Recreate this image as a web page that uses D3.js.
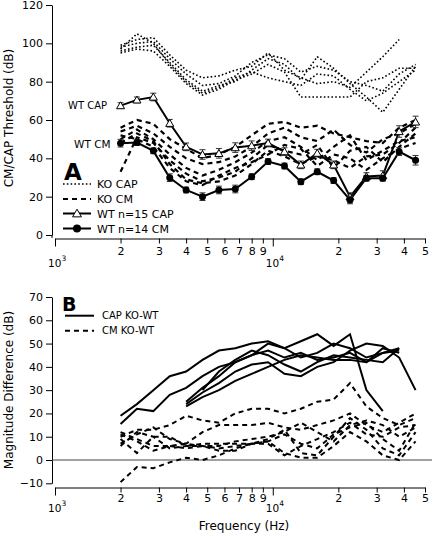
<!DOCTYPE html>
<html><head><meta charset="utf-8">
<script src="https://cdn.jsdelivr.net/npm/d3@7"></script>
<style>
body{margin:0;background:#fff}
svg{display:block;font-family:"DejaVu Sans",Verdana,sans-serif}
</style>
</head><body>
<svg id="c" width="433" height="536"></svg>
<script>
// ---------- DATA ----------
const freqs = [2000, 2378, 2828, 3364, 4000, 4757, 5657, 6727, 8000, 9514, 11314, 13454, 16000, 19027, 22627, 26909, 32000, 38055, 45255];

const wtCap    = [67.5, 70.5, 72, 58.3, 46, 42, 42.6, 45.6, 46.6, 48, 43.5, 36.6, 42.7, 36.6, 20, 30.5, 31, 54, 59];
const wtCapErr = [1.5, 1.5, 2, 2, 2, 2.5, 2.5, 2.5, 2.5, 2, 2, 2, 2, 2, 2, 2, 2.5, 3, 3];
const wtCm     = [47.9, 48.2, 43.9, 29.9, 23.5, 20, 23.5, 24, 30.4, 38.3, 36, 27.8, 33, 28.4, 18.3, 29.6, 29.6, 43.5, 39];
const wtCmErr  = [2, 1.5, 1.5, 2, 1.5, 2, 2, 2, 1.5, 1.5, 1.5, 1.5, 1.5, 1.5, 2, 1.5, 1.5, 2, 2.5];

const koCap1 = [99, 102, 103, 94, 86, 82, 83, 86, 88, 95, 86, 82, 79, 80, 77, 85, 93, 102, null];
const koCap2 = [98, 100, 101, 92, 84, 78, 79, 83, 90, 94, 92, 85, 88, 86, 80, 78, 75, 84, 89];
const koCap3 = [96, 98, 99, 90, 81, 75, 78, 80, 86, 92, 89, 81, 93, 87, 79, 72, 64, 76, 88];
const koCap4 = [95, 97, 96, 88, 79, 73, 76, 81, 84, 89, 85, 72, 72, 72, 72, 80, 82, 87, 87];
const koCap5 = [97, 105, 100, 89, 80, 74, 77, 82, 85, 82, 80, 78, 84, 83, 76, 70, 74, 80, 86];

const koCm1 = [56, 60, 58, 50, 45, 40, 42, 46, 52, 58, 59, 56, 57, 53, 51, 49, 48, 56, 60];
const koCm2 = [54, 57, 53, 46, 40, 37, 38, 41, 46, 53, 56, 51, 49, 55, 47, 43, 50, 53, 58];
const koCm3 = [50, 55, 50, 42, 35, 31, 34, 38, 43, 49, 51, 46, 39, 46, 52, 39, 44, 49, 51];
const koCm4 = [33, 51, 48, 39, 32, 28, 30, 33, 40, 47, 44, 42, 47, 35, 44, 46, 38, 46, 53];
const koCm5 = [48, 53, 49, 37, 29, 27, 28, 31, 37, 44, 41, 37, 41, 39, 35, 41, 42, 48, 56];
const koCm6 = [52, 50, 46, 35, 28, 26, 31, 35, 38, 42, 47, 45, 36, 42, 40, 34, 40, 45, 48];

const capDiff1 = [19, 24, 30, 36, 38, 43, 47, 48, 50, 51, 48, 51, 54, 49, 54, 30, 21, null, null];
const capDiff2 = [15.5, 22, 21, 28, 31, 36, 40, 42, 45, 47, 44, 46, 43, 44, 46, 42, 46, 48, null];
const capDiff3 = [null, null, null, null, 24, 29, 33, 38, 41, 42, 37, 36, 40, 42, 47, 50, 49, 44, 30];
const capDiff4 = [null, null, null, null, 23, 27, 30, 34, 37, 40, 43, 45, 44, 43, 43, 42, 48, 46, null];
const capDiff5 = [null, null, null, null, 25, 31, 36, 42, 45, 50, 48, 44, 46, 50, 48, 44, 46, 47, null];
const capDiff6 = [null, null, null, null, null, 30, 38, 43, 47, 45, 41, 38, 42, 45, 44, 43, 42, 48, null];

const cmDiff1 = [-9.5, -3, -3.5, -1, 1, 0, 2, 5, 7, 8, 3, 1, 1, 6, 12, 8, 2, 0, 8];
const cmDiff2 = [10, 13, 13, 15, 19, 17, 16, 20, 22, 22, 20, 22, 25, 26, 33, 23, 18, 15, 18];
const cmDiff3 = [7, 11, 14, 9, 7, 12, 15, 15, 15, 16, 14, 13, 15, 17, 20, 15, 12, 16, 20];
const cmDiff4 = [12, 9, 6, 6, 7, 6, 6, 8, 9, 10, 12, 16, 12, 8, 15, 17, 15, 10, 14];
const cmDiff5 = [9, 3, 10, 10, 6, 7, 7, 7, 7, 7, 2, 6, 9, 12, 16, 11, 10, 14, 15];
const cmDiff6 = [6, 12, 10, 5, 6, 6, 5, 6, 7, 9, 13, 3, 2, 10, 18, 13, 5, 2, 12];
const cmDiff7 = [11, 8, 4, 6, 5, 6, 4, 4, 7, 8, 11, 7, 5, 11, 14, 16, 9, 4, 16];

const xTicks = [1000, 2000, 3000, 4000, 5000, 6000, 7000, 8000, 9000, 10000, 20000, 30000, 40000, 50000];
const xTickLabels = ["", "2", "3", "4", "5", "6", "7", "8", "9", "", "2", "3", "4", "5"];
const xPowers = [1000, 10000];
const xPowerLabels = ["3", "4"];
const yTopTicks = [0, 20, 40, 60, 80, 100, 120];
const yBotTicks = [-10, 0, 10, 20, 30, 40, 50, 60, 70];

// ---------- CHART ----------
const svg = d3.select("#c");
const FONT = '"DejaVu Sans",Verdana,sans-serif';

const x = d3.scaleLog().domain([1000, 50000]).range([55, 425]);
const yTop = d3.scaleLinear().domain([0, 120]).range([235, 5]);
const yBot = d3.scaleLinear().domain([-10, 70]).range([483.3, 297]);

function drawXAxis(yPos, pad, powBase) {
  const g = svg.append("g").attr("transform", `translate(0,${yPos})`)
    .call(d3.axisBottom(x).tickValues(xTicks).tickFormat((d, i) => xTickLabels[i])
      .tickSize(5).tickSizeOuter(0).tickPadding(pad));
  g.attr("font-size", 11).attr("font-family", FONT);
  g.selectAll(".tick line").attr("y2", d => (d === 1000 || d === 10000) ? 8 : 5);
  g.select(".domain").attr("stroke-width", 1);
  xPowers.forEach((p, i) => {
    const t = svg.append("text").attr("x", x(p) - 7).attr("y", powBase)
      .attr("font-size", 10.5).attr("font-family", FONT).attr("fill", "#000").text("10");
    t.append("tspan").attr("dy", -6).attr("font-size", 7.5).text(xPowerLabels[i]);
  });
}
function drawYAxis(scale, ticks, extraBottom) {
  const g = svg.append("g").attr("transform", "translate(52,0)")
    .call(d3.axisLeft(scale).tickValues(ticks).tickFormat(d3.format("d")).tickSize(6).tickSizeOuter(0).tickPadding(3));
  g.attr("font-size", 11).attr("font-family", FONT);
  if (extraBottom) {
    svg.append("line").attr("x1", 52).attr("x2", 52).attr("y1", scale.range()[0]).attr("y2", extraBottom)
      .attr("stroke", "#000");
  }
}

// Panel A axes
drawYAxis(yTop, yTopTicks, 238);
drawXAxis(238.5, 4, 267);
// Panel B axes
drawYAxis(yBot, yBotTicks, null);
drawXAxis(487.5, 2, 512);

// axis titles
svg.append("text").attr("transform", "translate(13,118) rotate(-90)").attr("text-anchor", "middle")
  .attr("font-size", 12).attr("font-family", FONT).text("CM/CAP Threshold (dB)");
svg.append("text").attr("transform", "translate(13,390) rotate(-90)").attr("text-anchor", "middle")
  .attr("font-size", 12).attr("font-family", FONT).text("Magnitude Difference (dB)");
svg.append("text").attr("x", 244).attr("y", 530).attr("text-anchor", "middle")
  .attr("font-size", 12).attr("font-family", FONT).text("Frequency (Hz)");

// zero line in B
svg.append("line").attr("x1", 52).attr("x2", 432).attr("y1", yBot(0)).attr("y2", yBot(0))
  .attr("stroke", "#444").attr("stroke-width", 1);

const lineGen = (yS) => d3.line().defined(d => d != null).x((d, i) => x(freqs[i])).y(d => yS(d));

const DOT = {dash: "1.6,2.2", w: 1.6};
const DASH = {dash: "5,4", w: 2.2};

function drawSeries(arr, yS, style) {
  svg.append("path").attr("d", lineGen(yS)(arr)).attr("fill", "none").attr("stroke", "#000")
    .attr("stroke-width", style.w).attr("stroke-dasharray", style.dash || null)
    .attr("stroke-linejoin", "miter");
}

// KO CAP (dotted)
[koCap1, koCap2, koCap3, koCap4, koCap5].forEach(a => drawSeries(a, yTop, DOT));
// KO CM (dashed)
[koCm1, koCm2, koCm3, koCm4, koCm5, koCm6].forEach(a => drawSeries(a, yTop, DASH));

// WT with error bars
function drawWT(vals, errs, marker) {
  drawSeries(vals, yTop, {w: 2});
  const g = svg.append("g");
  vals.forEach((v, i) => {
    const cx = x(freqs[i]);
    const y1 = yTop(v + errs[i]), y2 = yTop(v - errs[i]);
    g.append("line").attr("x1", cx).attr("x2", cx).attr("y1", y1).attr("y2", y2).attr("stroke", "#333").attr("stroke-width", 1);
    g.append("line").attr("x1", cx - 3).attr("x2", cx + 3).attr("y1", y1).attr("y2", y1).attr("stroke", "#333").attr("stroke-width", 1);
    g.append("line").attr("x1", cx - 3).attr("x2", cx + 3).attr("y1", y2).attr("y2", y2).attr("stroke", "#333").attr("stroke-width", 1);
  });
  vals.forEach((v, i) => {
    const cx = x(freqs[i]), cy = yTop(v);
    if (marker === "tri") {
      g.append("path").attr("d", d3.symbol(d3.symbolTriangle, 28)()).attr("transform", `translate(${cx},${cy + 0.8})`)
        .attr("fill", "#fff").attr("stroke", "#000").attr("stroke-width", 1);
    } else {
      g.append("circle").attr("cx", cx).attr("cy", cy).attr("r", 3.5).attr("fill", "#000");
    }
  });
}
drawWT(wtCap, wtCapErr, "tri");
drawWT(wtCm, wtCmErr, "circ");

// Panel B lines
[cmDiff1, cmDiff2, cmDiff3, cmDiff4, cmDiff5, cmDiff6, cmDiff7].forEach(a => drawSeries(a, yBot, {dash: "5,4", w: 2}));
[capDiff1, capDiff2, capDiff3, capDiff4, capDiff5, capDiff6].forEach(a => drawSeries(a, yBot, {w: 2}));

// Panel labels
svg.append("text").attr("x", 64).attr("y", 180).attr("font-size", 23).attr("font-weight", "bold")
  .attr("font-family", FONT).text("A");
svg.append("text").attr("x", 62).attr("y", 311).attr("font-size", 19).attr("font-weight", "bold")
  .attr("font-family", FONT).text("B");

// In-plot labels
svg.append("text").attr("x", 68).attr("y", 109).attr("font-size", 10).attr("font-family", FONT).text("WT CAP");
svg.append("text").attr("x", 74).attr("y", 148).attr("font-size", 10.5).attr("font-family", FONT).text("WT CM");

// Legend A
const legA = [
  {t: "KO CAP", y: 184, style: DOT, m: null},
  {t: "KO CM", y: 199, style: DASH, m: null},
  {t: "WT n=15 CAP", y: 213.5, style: {w: 2}, m: "tri"},
  {t: "WT n=14 CM", y: 228.5, style: {w: 2}, m: "circ"}
];
legA.forEach(d => {
  svg.append("line").attr("x1", 63).attr("x2", 91).attr("y1", d.y).attr("y2", d.y).attr("stroke", "#000")
    .attr("stroke-width", d.style.w).attr("stroke-dasharray", d.style.dash || null);
  if (d.m === "tri") svg.append("path").attr("d", d3.symbol(d3.symbolTriangle, 34)()).attr("transform", `translate(77,${d.y + 0.8})`)
    .attr("fill", "#fff").attr("stroke", "#000");
  if (d.m === "circ") svg.append("circle").attr("cx", 77).attr("cy", d.y).attr("r", 4).attr("fill", "#000");
  svg.append("text").attr("x", 97).attr("y", d.y + 4).attr("font-size", 11).attr("font-family", FONT).text(d.t);
});

// Legend B
const legB = [
  {t: "CAP KO-WT", y: 315.7, style: {w: 2}},
  {t: "CM KO-WT", y: 330.7, style: {dash: "5,4", w: 2}}
];
legB.forEach(d => {
  svg.append("line").attr("x1", 65).attr("x2", 94).attr("y1", d.y).attr("y2", d.y).attr("stroke", "#000")
    .attr("stroke-width", d.style.w).attr("stroke-dasharray", d.style.dash || null);
  svg.append("text").attr("x", 102).attr("y", d.y + 3.7).attr("font-size", 10).attr("font-family", FONT).text(d.t);
});
</script>
</body></html>
